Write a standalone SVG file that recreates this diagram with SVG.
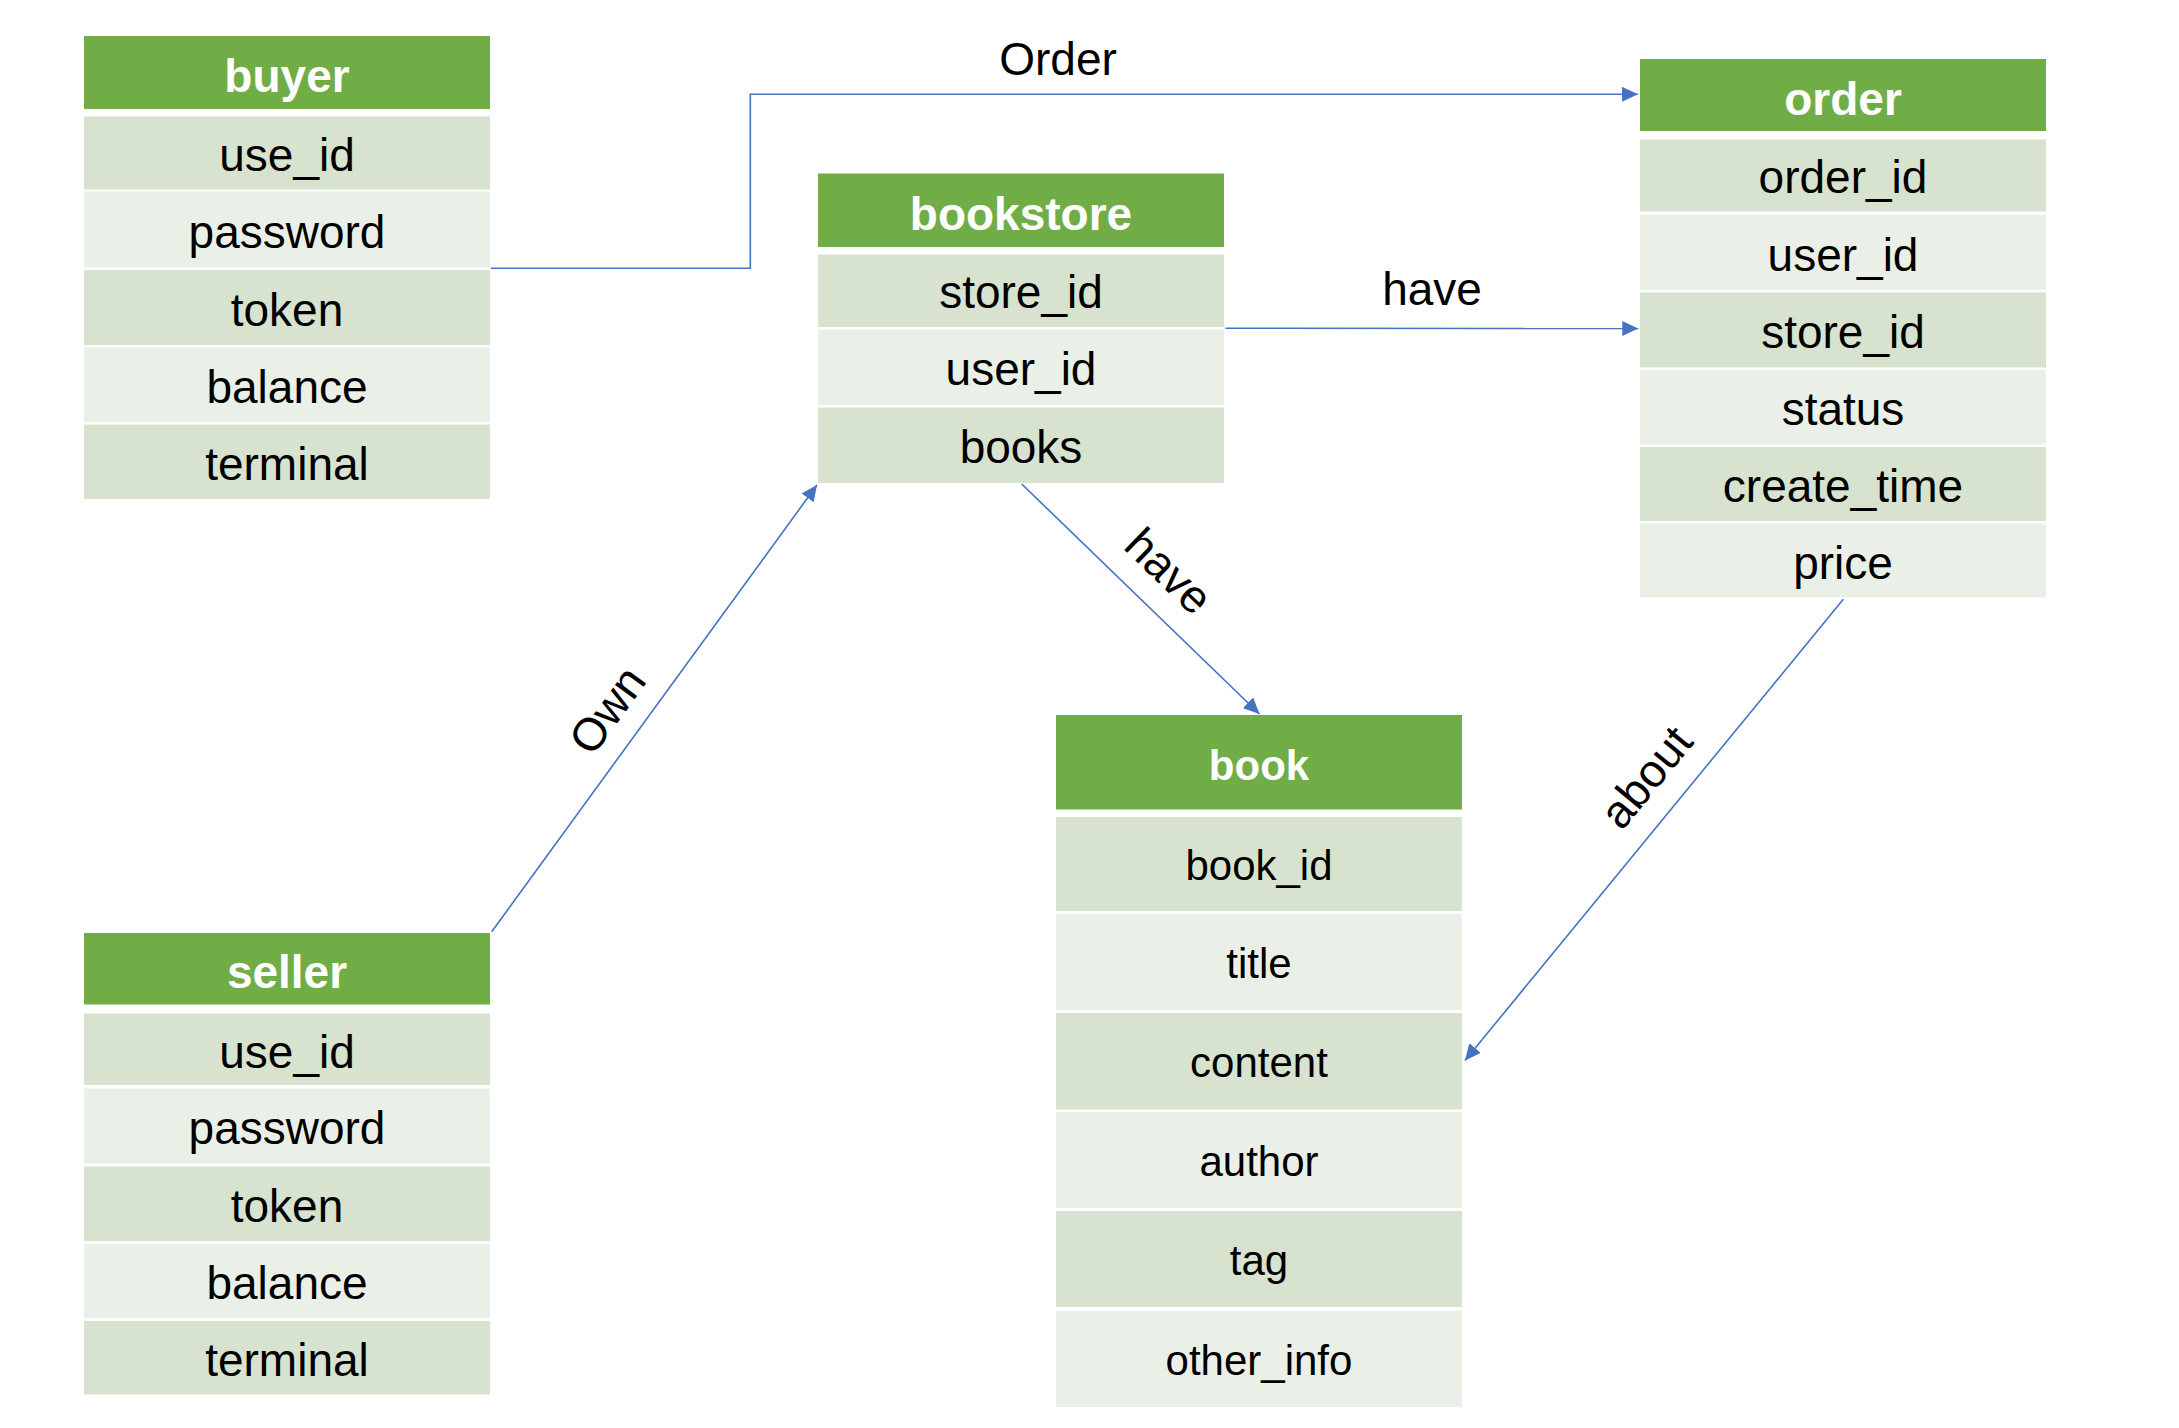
<svg xmlns="http://www.w3.org/2000/svg" width="2179" height="1428" viewBox="0 0 2179 1428">
<style>
.hd{fill:#70AD47}
.d{fill:#D7E3CF}
.l{fill:#EAF0E7}
.ht{font-family:"Liberation Sans",Arial,sans-serif;font-weight:bold;font-size:46px;fill:#FFFFFF;text-anchor:middle;dominant-baseline:central}
.ft{font-family:"Liberation Sans",Arial,sans-serif;font-size:46px;fill:#000000;text-anchor:middle;dominant-baseline:central}
.bt{font-family:"Liberation Sans",Arial,sans-serif;font-size:42px;fill:#000000;text-anchor:middle;dominant-baseline:central}
.bh{font-family:"Liberation Sans",Arial,sans-serif;font-weight:bold;font-size:42px;fill:#FFFFFF;text-anchor:middle;dominant-baseline:central}
.lb{font-family:"Liberation Sans",Arial,sans-serif;font-size:46px;fill:#000000;text-anchor:middle}
.cn{fill:none;stroke:#4472C4;stroke-width:1.6}
</style>
<defs>
<marker id="arr" markerUnits="userSpaceOnUse" markerWidth="18" markerHeight="16" refX="16" refY="7.5" orient="auto">
<path d="M0,0 L16,7.5 L0,15 Z" fill="#4472C4"/>
</marker>
</defs>
<rect width="2179" height="1428" fill="#FFFFFF"/>

<g id="buyer">
<rect class="hd" x="84" y="36" width="406" height="73"/>
<text class="ht" x="287" y="75.5">buyer</text>
<rect class="d" x="84" y="116.5" width="406" height="73"/>
<text class="ft" x="287" y="155">use_id</text>
<rect class="l" x="84" y="191.5" width="406" height="76"/>
<text class="ft" x="287" y="231.5">password</text>
<rect class="d" x="84" y="270" width="406" height="75"/>
<text class="ft" x="287" y="309.5">token</text>
<rect class="l" x="84" y="347.5" width="406" height="74.5"/>
<text class="ft" x="287" y="387">balance</text>
<rect class="d" x="84" y="424.5" width="406" height="74.5"/>
<text class="ft" x="287" y="464">terminal</text>
</g>

<g id="seller">
<rect class="hd" x="84" y="933" width="406" height="71.5"/>
<text class="ht" x="287" y="972">seller</text>
<rect class="d" x="84" y="1013.5" width="406" height="71.5"/>
<text class="ft" x="287" y="1051.5">use_id</text>
<rect class="l" x="84" y="1088.5" width="406" height="75"/>
<text class="ft" x="287" y="1128">password</text>
<rect class="d" x="84" y="1166.5" width="406" height="74.5"/>
<text class="ft" x="287" y="1206">token</text>
<rect class="l" x="84" y="1244" width="406" height="74"/>
<text class="ft" x="287" y="1283">balance</text>
<rect class="d" x="84" y="1321" width="406" height="73.5"/>
<text class="ft" x="287" y="1360">terminal</text>
</g>

<g id="bookstore">
<rect class="hd" x="818" y="173.5" width="406" height="73.5"/>
<text class="ht" x="1021" y="213.5">bookstore</text>
<rect class="d" x="818" y="254.5" width="406" height="72.5"/>
<text class="ft" x="1021" y="292">store_id</text>
<rect class="l" x="818" y="329.5" width="406" height="75.5"/>
<text class="ft" x="1021" y="369">user_id</text>
<rect class="d" x="818" y="407.5" width="406" height="75.5"/>
<text class="ft" x="1021" y="447">books</text>
</g>

<g id="order">
<rect class="hd" x="1640" y="59" width="406" height="72"/>
<text class="ht" x="1843" y="98.5">order</text>
<rect class="d" x="1640" y="139.5" width="406" height="72"/>
<text class="ft" x="1843" y="177">order_id</text>
<rect class="l" x="1640" y="215" width="406" height="75"/>
<text class="ft" x="1843" y="254.5">user_id</text>
<rect class="d" x="1640" y="292.5" width="406" height="75"/>
<text class="ft" x="1843" y="332">store_id</text>
<rect class="l" x="1640" y="370" width="406" height="74.5"/>
<text class="ft" x="1843" y="409">status</text>
<rect class="d" x="1640" y="447" width="406" height="74"/>
<text class="ft" x="1843" y="486">create_time</text>
<rect class="l" x="1640" y="523.5" width="406" height="74"/>
<text class="ft" x="1843" y="562.5">price</text>
</g>

<g id="book">
<rect class="hd" x="1056" y="715" width="406" height="94.5"/>
<text class="bh" x="1259" y="765.5">book</text>
<rect class="d" x="1056" y="817" width="406" height="94"/>
<text class="bt" x="1259" y="865.5">book_id</text>
<rect class="l" x="1056" y="914" width="406" height="96"/>
<text class="bt" x="1259" y="963.5">title</text>
<rect class="d" x="1056" y="1013" width="406" height="96.5"/>
<text class="bt" x="1259" y="1062.5">content</text>
<rect class="l" x="1056" y="1112" width="406" height="96"/>
<text class="bt" x="1259" y="1161.5">author</text>
<rect class="d" x="1056" y="1211" width="406" height="96"/>
<text class="bt" x="1259" y="1260.5">tag</text>
<rect class="l" x="1056" y="1310.5" width="406" height="96.5"/>
<text class="bt" x="1259" y="1360">other_info</text>
</g>

<g id="connectors">
<polyline class="cn" points="491,268.3 750.3,268.3 750.3,94.3 1638,94.3" marker-end="url(#arr)"/>
<text class="lb" x="1058" y="75">Order</text>
<line class="cn" x1="1225.5" y1="328.3" x2="1638.3" y2="328.5" marker-end="url(#arr)"/>
<text class="lb" x="1432" y="305">have</text>
<line class="cn" x1="1021.7" y1="484" x2="1259.5" y2="714" marker-end="url(#arr)"/>
<text class="lb" x="0" y="0" dominant-baseline="central" transform="translate(1169,571) rotate(44)">have</text>
<line class="cn" x1="491.7" y1="931.7" x2="817" y2="485" marker-end="url(#arr)"/>
<text class="lb" x="0" y="0" dominant-baseline="central" transform="translate(607,710) rotate(-54)">Own</text>
<line class="cn" x1="1843.3" y1="599.3" x2="1465" y2="1060.5" marker-end="url(#arr)"/>
<text class="lb" x="0" y="0" dominant-baseline="central" transform="translate(1646,777) rotate(-50.6)">about</text>
</g>
</svg>
